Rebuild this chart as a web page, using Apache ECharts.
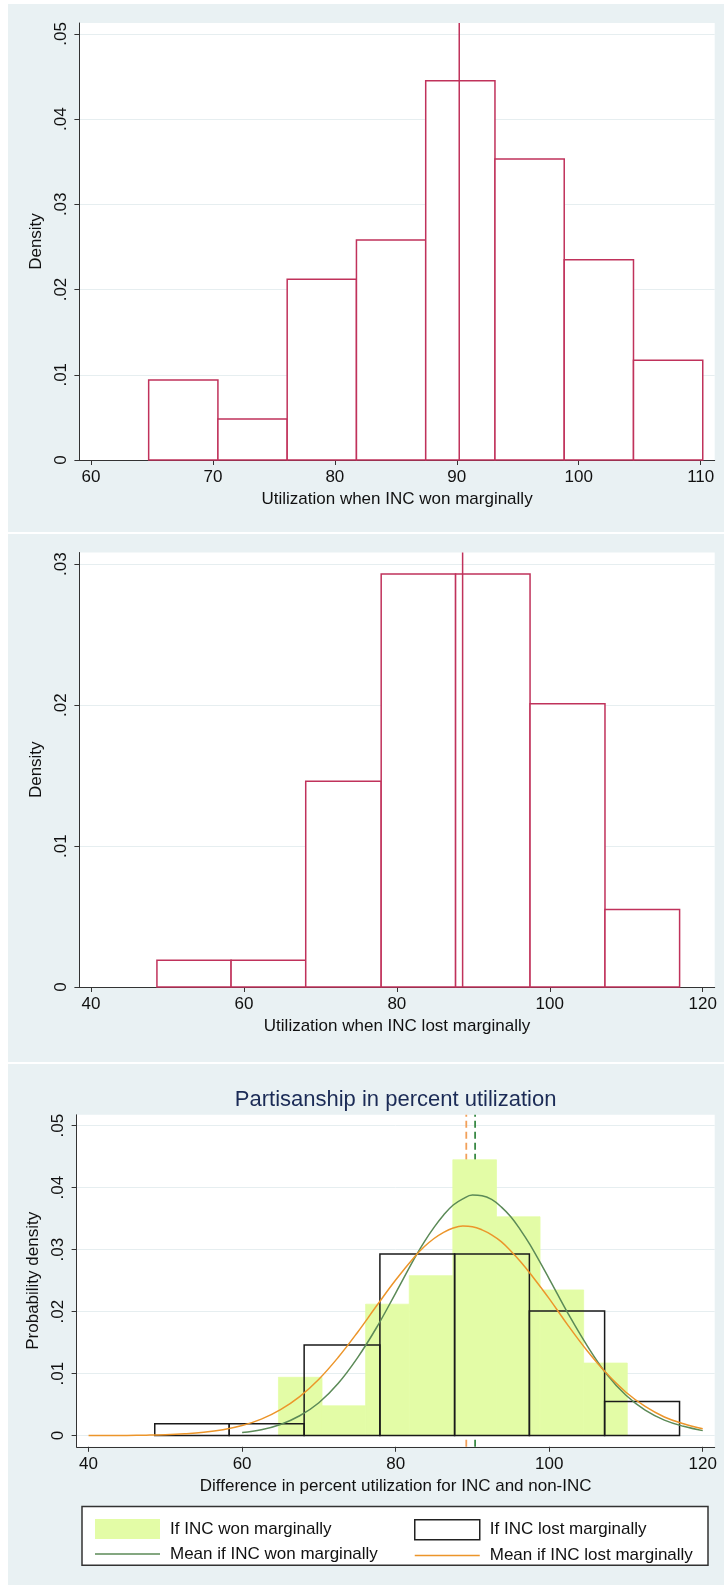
<!DOCTYPE html>
<html><head><meta charset="utf-8">
<script src="https://cdn.jsdelivr.net/npm/echarts@6/dist/echarts.min.js"></script>
<style>html,body{margin:0;padding:0;background:#fff}#c{width:724px;height:1585px}</style>
</head><body><div id="c"></div>
<script>
// ---------- data ----------
const wonEdges   = [64.73, 70.41, 76.09, 81.77, 87.45, 93.13, 98.81, 104.49, 110.17];
const wonDensity = [0.0094, 0.0048, 0.0212, 0.0258, 0.0445, 0.0353, 0.0235, 0.0117];
const lostEdges   = [48.62, 58.32, 68.08, 77.95, 87.68, 97.42, 107.22, 116.98];
const lostDensity = [0.0019, 0.0019, 0.0146, 0.0293, 0.0293, 0.0201, 0.0055];

const wonMeanTop = 90.2;      // line in top panel
const lostMeanMid = 88.6;     // line in middle panel
const wonMeanBottom = 90.35;  // dashed green in bottom panel
const lostMeanBottom = 89.2;  // dashed orange in bottom panel

const curveWonX = [60,62.5,65,67.5,70,72.5,75,77.5,80,82.5,83.75,85,86.25,87.5,88.75,90,91.25,92.5,93.75,95,96.25,97.5,100,102.5,105,107.5,110,112.5,115,117.5,120];
const curveWonY = [0.0005,0.00095,0.0018,0.0032,0.0053,0.0084,0.0125,0.0174,0.0230,0.0287,0.0313,0.0336,0.0356,0.0372,0.0382,0.0388,0.0387,0.0381,0.0369,0.0353,0.0332,0.0308,0.0253,0.0196,0.0144,0.0099,0.0065,0.0041,0.0025,0.0015,0.0008];
const curveLostX = [40,42.5,45,47.5,50,52.5,55,57.5,60,62.5,65,67.5,70,72.5,75,77.5,80,82.5,83.75,85,86.25,87.5,88.75,90,91.25,92.5,93.75,95,96.25,97.5,100,102.5,105,107.5,110,112.5,115,117.5,120];
const curveLostY = [0.00001,0.00001,0.00003,0.00007,0.00014,0.00028,0.00052,0.00094,0.00162,0.00266,0.0042,0.0063,0.0091,0.0126,0.0166,0.0209,0.0251,0.0289,0.0305,0.0318,0.0328,0.0335,0.0338,0.0337,0.0332,0.0324,0.0313,0.0298,0.0281,0.0262,0.0221,0.0177,0.0136,0.0100,0.0070,0.0047,0.0030,0.0019,0.0011];

const xTicksTop = [60, 70, 80, 90, 100, 110];
const xTicksLow = [40, 60, 80, 100, 120];
const yTicks5 = [0, 0.01, 0.02, 0.03, 0.04, 0.05];
const yTicks3 = [0, 0.01, 0.02, 0.03];

const titleText = 'Partisanship in percent utilization';
const xName1 = 'Utilization when INC won marginally';
const xName2 = 'Utilization when INC lost marginally';
const xName3 = 'Difference in percent utilization for INC and non-INC';
const legWonHist = 'If INC won marginally';
const legLostHist = 'If INC lost marginally';
const legWonMean = 'Mean if INC won marginally';
const legLostMean = 'Mean if INC lost marginally';

// ---------- styling ----------
const FONT = '"Liberation Sans", Arial, Helvetica, sans-serif';
const BG = '#e9f1f3';
const GRIDC = '#e6eef0';
const AXC = '#333';
const TXT = '#111';
const CRIMSON = '#c0325b';
const LIME = '#e3fca6';
const GREEN = '#5b8a57';
const GREEN_D = '#3a8a46';
const ORANGE = '#ec952a';
const ORANGE_D = '#f2a05a';
const LINE_ICON = 'path://M0,0L65,0L65,1.5L0,1.5Z';

const ext = {
  x1: [59.05, 111.15], y1: [0, 0.05127],
  x2: [38.48, 121.57], y2: [0, 0.03083],
  x3: [38.44, 121.56], y3: [-0.00181, 0.05176]
};

function bins(edges, dens) { return dens.map((d, i) => [edges[i], edges[i + 1], d]); }
function fmtY(v) { return v === 0 ? '0' : String(+v.toFixed(2)).replace(/^0\./, '.'); }

function hist(name, gi, data, style, z) {
  return {
    type: 'custom', name, xAxisIndex: gi, yAxisIndex: gi, data, z,
    encode: { x: [0, 1], y: 2 }, silent: true, animation: false,
    renderItem(params, api) {
      const p0 = api.coord([api.value(0), api.value(2)]);
      const p1 = api.coord([api.value(1), 0]);
      return { type: 'rect', shape: { x: p0[0], y: p0[1], width: p1[0] - p0[0], height: p1[1] - p0[1] }, style };
    }
  };
}
function vline(name, gi, xv, yext, color, width, type, z) {
  return {
    type: 'line', name, xAxisIndex: gi, yAxisIndex: gi, z, symbol: 'none', silent: true, animation: false,
    data: [[xv, yext[0]], [xv, yext[1]]],
    lineStyle: { color, width, type }
  };
}
function xAx(gi, e, ticks, name) {
  return {
    type: 'value', gridIndex: gi, min: e[0], max: e[1], name, nameLocation: 'middle', nameGap: 31,
    nameTextStyle: { fontFamily: FONT, fontSize: 17, color: TXT },
    axisLine: { show: true, onZero: false, lineStyle: { color: AXC, width: 1 } },
    axisTick: { show: true, customValues: ticks, length: 5, lineStyle: { color: AXC } },
    axisLabel: { customValues: ticks, margin: 9, fontFamily: FONT, fontSize: 17, color: TXT },
    splitLine: { show: false }
  };
}
function yAx(gi, e, ticks, name, gap) {
  return {
    type: 'value', gridIndex: gi, min: e[0], max: e[1], name, nameLocation: 'middle', nameGap: gap,
    nameTextStyle: { fontFamily: FONT, fontSize: 17, color: TXT },
    axisLine: { show: true, onZero: false, lineStyle: { color: AXC, width: 1 } },
    axisTick: { show: true, customValues: ticks, length: 5, lineStyle: { color: AXC } },
    axisLabel: { customValues: ticks, rotate: 90, margin: 10, fontFamily: FONT, fontSize: 17, color: TXT, formatter: fmtY },
    splitLine: { show: true, lineStyle: { color: GRIDC, width: 1 } }
  };
}

const chart = echarts.init(document.getElementById('c'), null, { renderer: 'canvas' });
const gridBase = { show: true, backgroundColor: '#fff', borderWidth: 0, containLabel: false, outerBoundsMode: 'none' };
const legText = { fontFamily: FONT, fontSize: 17, color: TXT, padding: [0, 0, 0, 5] };

chart.setOption({
  backgroundColor: BG,
  animation: false,
  textStyle: { fontFamily: FONT },
  grid: [
    Object.assign({ left: 79.4, top: 23, width: 635.3, height: 437 }, gridBase),
    Object.assign({ left: 79.4, top: 552.5, width: 635.3, height: 434.5 }, gridBase),
    Object.assign({ left: 76.6, top: 1114.8, width: 638.1, height: 332 }, gridBase)
  ],
  xAxis: [xAx(0, ext.x1, xTicksTop, xName1), xAx(1, ext.x2, xTicksLow, xName2), xAx(2, ext.x3, xTicksLow, xName3)],
  yAxis: [yAx(0, ext.y1, yTicks5, 'Density', 32), yAx(1, ext.y2, yTicks3, 'Density', 32), yAx(2, ext.y3, yTicks5, 'Probability density', 29)],
  legend: [
    { orient: 'vertical', left: 90, top: 1514, itemWidth: 65, itemHeight: 20, itemGap: 6.6, selectedMode: false, textStyle: legText,
      data: [{ name: legWonHist, icon: 'rect', itemStyle: { color: LIME, borderWidth: 0 } },
             { name: legWonMean, icon: LINE_ICON, itemStyle: { color: GREEN, borderWidth: 0 } }] },
    { orient: 'vertical', left: 409, top: 1514, itemWidth: 65, itemHeight: 20, itemGap: 6.6, selectedMode: false, textStyle: legText,
      data: [{ name: legLostHist, icon: 'rect', itemStyle: { color: '#fff', borderColor: '#222', borderWidth: 1.5 } },
             { name: legLostMean, icon: LINE_ICON, itemStyle: { color: ORANGE, borderWidth: 0 } }] }
  ],
  graphic: [
    { type: 'rect', shape: { x: 0, y: 0, width: 724, height: 4 }, style: { fill: '#fff' }, silent: true },
    { type: 'rect', shape: { x: 0, y: 0, width: 8, height: 1585 }, style: { fill: '#fff' }, silent: true },
    { type: 'rect', shape: { x: 0, y: 532, width: 724, height: 2 }, style: { fill: '#fff' }, silent: true },
    { type: 'rect', shape: { x: 0, y: 1062, width: 724, height: 2 }, style: { fill: '#fff' }, silent: true },
    { type: 'rect', shape: { x: 82, y: 1506.5, width: 626, height: 58.7 }, style: { fill: '#fff', stroke: '#333', lineWidth: 1.5 }, silent: true },
    { type: 'text', x: 395.6, y: 1099.5, silent: true,
      style: { text: titleText, fontFamily: FONT, fontSize: 22, fill: '#1b2b56', align: 'center', verticalAlign: 'middle' } }
  ],
  series: [
    hist('wonTop', 0, bins(wonEdges, wonDensity), { fill: '#fff', stroke: CRIMSON, lineWidth: 1.5 }, 2),
    vline('wonMeanTop', 0, wonMeanTop, ext.y1, CRIMSON, 1.5, 'solid', 3),
    hist('lostMid', 1, bins(lostEdges, lostDensity), { fill: '#fff', stroke: CRIMSON, lineWidth: 1.5 }, 2),
    vline('lostMeanMid', 1, lostMeanMid, ext.y2, CRIMSON, 1.5, 'solid', 3),
    vline('lostMeanBottom', 2, lostMeanBottom, ext.y3, ORANGE_D, 1.8, [7, 4], 1),
    vline('wonMeanBottom', 2, wonMeanBottom, ext.y3, GREEN_D, 1.8, [7, 4], 1),
    hist(legWonHist, 2, bins(wonEdges, wonDensity), { fill: LIME, stroke: LIME, lineWidth: 0.8 }, 2),
    hist(legLostHist, 2, bins(lostEdges, lostDensity), { fill: 'none', stroke: '#1a1a1a', lineWidth: 1.5 }, 3),
    { type: 'line', name: legWonMean, xAxisIndex: 2, yAxisIndex: 2, z: 4, smooth: 0.4, symbol: 'none', silent: true,
      data: curveWonX.map((x, i) => [x, curveWonY[i]]), lineStyle: { color: GREEN, width: 1.5 }, itemStyle: { color: GREEN } },
    { type: 'line', name: legLostMean, xAxisIndex: 2, yAxisIndex: 2, z: 4, smooth: 0.4, symbol: 'none', silent: true,
      data: curveLostX.map((x, i) => [x, curveLostY[i]]), lineStyle: { color: ORANGE, width: 1.5 }, itemStyle: { color: ORANGE } }
  ]
});
</script></body></html>
